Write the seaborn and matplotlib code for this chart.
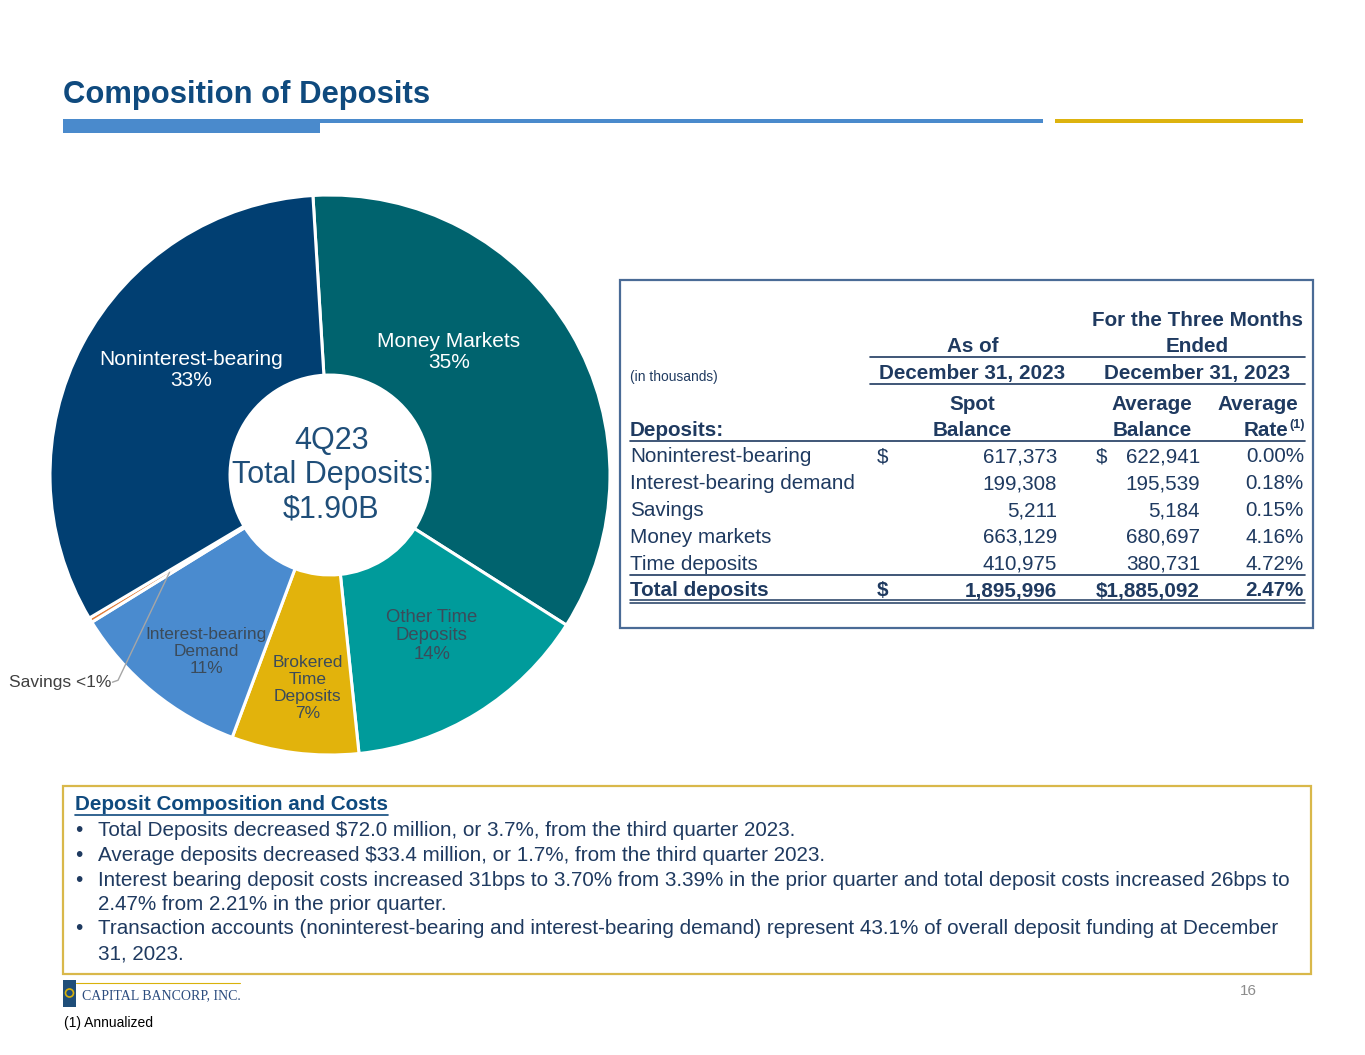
import numpy as np
import seaborn as sns
import matplotlib.pyplot as plt
from matplotlib.patches import Rectangle, Circle

# donut slices (spot balances, $000s; time deposits split brokered / other)
slice_names = ["Money Markets", "Other Time\nDeposits", "Brokered\nTime\nDeposits",
               "Interest-bearing\nDemand", "Savings", "Noninterest-bearing"]
slice_values = [663129, 272000, 139000, 199308, 5211, 617373]
slice_pct = ["35%", "14%", "7%", "11%", "<1%", "33%"]
slice_colors = ["#00636E", "#009B9B", "#E2B30C", "#4A8BCF", "#E07B39", "#013F72"]
label_dark = [False, True, True, True, True, False]

# table
row_names = ["Noninterest-bearing", "Interest-bearing demand", "Savings",
             "Money markets", "Time deposits"]
spot_balance = ["617,373", "199,308", "5,211", "663,129", "410,975"]
avg_balance = ["622,941", "195,539", "5,184", "680,697", "380,731"]
avg_rate = ["0.00%", "0.18%", "0.15%", "4.16%", "4.72%"]
total_row = ["Total deposits", "1,895,996", "$1,885,092", "2.47%"]

bullets = [
    "Total Deposits decreased $72.0 million, or 3.7%, from the third quarter 2023.",
    "Average deposits decreased $33.4 million, or 1.7%, from the third quarter 2023.",
    "Interest bearing deposit costs increased 31bps to 3.70% from 3.39% in the prior quarter and total deposit costs increased 26bps to\n2.47% from 2.21% in the prior quarter.",
    "Transaction accounts (noninterest-bearing and interest-bearing demand) represent 43.1% of overall deposit funding at December\n31, 2023.",
]

sns.set_theme(style="white")
plt.rcParams["font.family"] = ["Liberation Sans", "DejaVu Sans"]
plt.rcParams["text.parse_math"] = False

NAVY = "#0F4A7E"
TXT = "#1F3A60"
FS = 14.9
W, H = 1365, 1055
fig = plt.figure(figsize=(W / 100, H / 100), dpi=100)

# overlay axes in pixel coordinates
bg = fig.add_axes([0, 0, 1, 1])
bg.set_xlim(0, W)
bg.set_ylim(H, 0)
bg.axis("off")

bg.text(63, 95, "Composition of Deposits", fontsize=22.3, fontweight="bold",
        color=NAVY, va="center", ha="left")
bg.add_patch(Rectangle((63, 119), 980, 4, color="#4A8ACC", lw=0))
bg.add_patch(Rectangle((63, 121), 257, 12, color="#4A8ACC", lw=0))
bg.add_patch(Rectangle((1055, 119), 248, 4, color="#DDB30F", lw=0))

# table box
bg.add_patch(Rectangle((620, 280), 693, 348, fill=False, ec="#4A6B96", lw=1.6))
hb = dict(fontsize=FS, fontweight="bold", color=TXT, va="center")
bg.text(1197, 321, "For the Three Months", ha="center", **hb)
bg.text(973, 346, "As of", ha="center", **hb)
bg.text(1197, 346, "Ended", ha="center", **hb)
bg.plot([870, 1305], [357, 357], color=TXT, lw=1.2)
bg.text(630, 377, "(in thousands)", fontsize=9.9, color=TXT, va="center")
bg.text(972, 373, "December 31, 2023", ha="center", **hb)
bg.text(1197, 373, "December 31, 2023", ha="center", **hb)
bg.plot([870, 1305], [384, 384], color=TXT, lw=1.2)
bg.text(972, 405, "Spot", ha="center", **hb)
bg.text(972, 430, "Balance", ha="center", **hb)
bg.text(1152, 405, "Average", ha="center", **hb)
bg.text(1152, 430, "Balance", ha="center", **hb)
bg.text(1258, 405, "Average", ha="center", **hb)
bg.text(1288, 430, "Rate", ha="right", **hb)
bg.text(1289, 425, "(1)", ha="left", fontsize=9, fontweight="bold", color=TXT, va="center")
bg.text(630, 430, "Deposits:", ha="left", **hb)
bg.plot([630, 1305], [441, 441], color=TXT, lw=1.2)

rb = dict(fontsize=FS, color=TXT, va="center")
for i, name in enumerate(row_names):
    y = 457 + i * 26.8
    bg.text(630, y, name, ha="left", **rb)
    bg.text(1057, y, spot_balance[i], ha="right", **rb)
    bg.text(1200, y, avg_balance[i], ha="right", **rb)
    bg.text(1304, y, avg_rate[i], ha="right", **rb)
    if i == 0:
        bg.text(877, y, "$", ha="left", **rb)
        bg.text(1096, y, "$", ha="left", **rb)
bg.plot([630, 1305], [575, 575], color=TXT, lw=1.2)
yt = 591
bg.text(630, yt, total_row[0], ha="left", **hb)
bg.text(877, yt, "$", ha="left", **hb)
bg.text(1057, yt, total_row[1], ha="right", **hb)
bg.text(1200, yt, total_row[2], ha="right", **hb)
bg.text(1304, yt, total_row[3], ha="right", **hb)
bg.plot([630, 1305], [599.5, 599.5], color=TXT, lw=1.1)
bg.plot([630, 1305], [602.5, 602.5], color=TXT, lw=1.1)

# commentary box
bg.add_patch(Rectangle((63, 786), 1248, 188, fill=False, ec="#D9B84A", lw=1.6))
bg.text(75, 805, "Deposit Composition and Costs", fontsize=FS, fontweight="bold",
        color=NAVY, va="center")
bg.plot([75, 388], [815, 815], color=NAVY, lw=1.2)
y = 831
for b in bullets:
    for j, line in enumerate(b.split("\n")):
        if j == 0:
            bg.text(75, y, "\u2022", fontsize=FS, color=TXT, va="center")
        bg.text(98, y, line, fontsize=FS, color=TXT, va="center")
        y += 24.5

# logo + footers
bg.add_patch(Rectangle((63, 980), 13, 27, color="#1F4E79", lw=0))
bg.add_patch(Circle((69.5, 993), 4, fill=False, ec="#D9B20A", lw=1.2))
bg.plot([76, 240], [983, 983], color="#D9B20A", lw=0.8)
bg.text(82, 996, "CAPITAL BANCORP, INC.", family="Liberation Serif", fontsize=10,
        color="#2B4C7E", va="center")
bg.text(1248, 991, "16", fontsize=11, color="#8C8C8C", va="center", ha="center")
bg.text(64, 1023, "(1) Annualized", fontsize=10, color="black", va="center")

# donut
cx, cy, R, half = 330, 475, 280, 300
ax = fig.add_axes([(cx - half) / W, (H - cy - half) / H, 2 * half / W, 2 * half / H])
wedges, _ = ax.pie(slice_values, colors=slice_colors, startangle=93.5, counterclock=False,
                   radius=1, wedgeprops=dict(width=0.643, edgecolor="white", linewidth=2.2))
lim = half / R
ax.set_xlim(-lim, lim)
ax.set_ylim(-lim, lim)
ax.set_aspect("equal")
ax.axis("off")

label_pos = [(0.425, 0.44), (0.364, -0.575), (-0.079, -0.76), (-0.443, -0.63), None, (-0.496, 0.375)]
label_fs = [15, 13.3, 12.5, 12.4, 12.5, 15]
for i, (w, name) in enumerate(zip(wedges, slice_names)):
    col = "#3B4B5A" if label_dark[i] else "white"
    if label_pos[i] is None:
        mid = np.deg2rad((w.theta1 + w.theta2) / 2)
        px, py = 0.67 * np.cos(mid), 0.67 * np.sin(mid)
        tx, ty = -0.782, -0.74
        ax.plot([px, tx + 0.025, tx + 0.005], [py, ty + 0.007, ty], color="#A6A6A6", lw=1)
        ax.text(tx, ty, f"{name} {slice_pct[i]}", ha="right", va="center",
                fontsize=label_fs[i], color="#404040")
        continue
    x, y = label_pos[i]
    ax.text(x, y, f"{name}\n{slice_pct[i]}", ha="center", va="center", fontsize=label_fs[i],
            color=col, linespacing=1.15)

ax.text(0.005, 0.0, "4Q23\nTotal Deposits:\n$1.90B", ha="center", va="center",
        fontsize=22, color="#1F4E79", linespacing=1.18)

fig.savefig("out.png", dpi=100, facecolor="white")
